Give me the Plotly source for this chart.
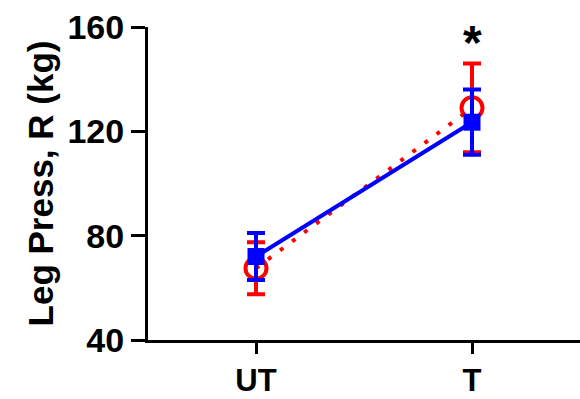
import plotly.graph_objects as go

categories = ["UT", "T"]
red_mean = [67.5, 129]
red_err = [10, 17]
blue_mean = [72, 123.5]
blue_err = [9, 12.5]
y_ticks = [40, 80, 120, 160]
sig_label = "*"
sig_value = 157

xpos = list(range(len(categories)))

fig = go.Figure()
fig.add_trace(go.Scatter(
    x=xpos, y=red_mean, mode="lines+markers",
    line=dict(color="#ff0000", width=4, dash="4px,11px"),
    marker=dict(symbol="circle-open", size=21, color="#ff0000", line=dict(width=4)),
    error_y=dict(type="data", array=red_err, color="#ff0000", thickness=4, width=9),
    showlegend=False,
))
fig.add_trace(go.Scatter(
    x=xpos, y=blue_mean, mode="lines+markers",
    line=dict(color="#0000ff", width=4),
    marker=dict(symbol="square", size=17, color="#0000ff"),
    error_y=dict(type="data", array=blue_err, color="#0000ff", thickness=4, width=9),
    showlegend=False,
))
fig.add_annotation(x=1, y=sig_value, text="<b>" + sig_label + "</b>", showarrow=False,
                   yanchor="middle", yshift=-8,
                   font=dict(family="Liberation Sans, Arial", size=48, color="black"))

fig.update_layout(
    width=580, height=399,
    margin=dict(l=148, r=0, t=27, b=59),
    plot_bgcolor="white", paper_bgcolor="white",
    font=dict(family="Liberation Sans, Arial", color="black"),
)
fig.update_xaxes(
    range=[-0.5, 1.5], tickvals=xpos, ticktext=[f"<b>{c}</b>" for c in categories],
    showline=True, linecolor="black", linewidth=3, ticks="outside", ticklen=11,
    tickwidth=3, tickcolor="black", showgrid=False, zeroline=False,
    tickfont=dict(size=31), automargin=False,
)
fig.update_yaxes(
    range=[40, 160], tickvals=y_ticks, ticktext=[f"<b>{t}</b>" for t in y_ticks],
    showline=True, linecolor="black", linewidth=3, ticks="outside", ticklen=14,
    tickwidth=3, tickcolor="black", showgrid=False, zeroline=False,
    tickfont=dict(size=34), automargin=False,
    title=dict(text="<b>Leg Press, R (kg)</b>", font=dict(size=35), standoff=4),
)
fig.write_html("out.html")
